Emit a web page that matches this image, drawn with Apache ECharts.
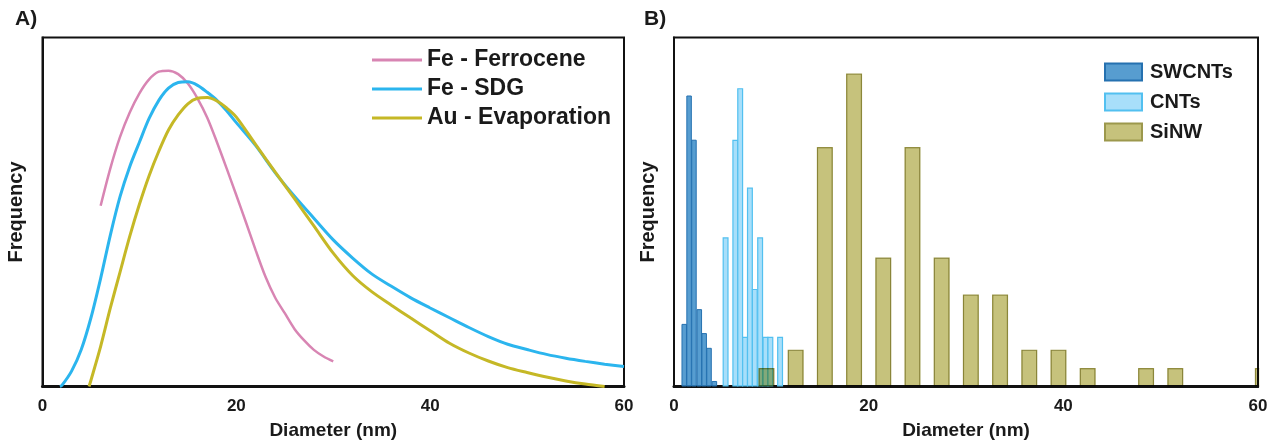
<!DOCTYPE html>
<html>
<head>
<meta charset="utf-8">
<script src="https://cdn.jsdelivr.net/npm/echarts@6/dist/echarts.min.js"></script>
<style>
html,body{margin:0;padding:0;background:#fff;}
#chart{width:1271px;height:441px;}
</style>
</head>
<body>
<div id="chart"></div>
<script>
// ---- Panel A: size distribution curves (x = diameter nm, y = relative frequency) ----
const ferrocene = [[6,51.8],[7,62.5],[8,71.5],[9,78.5],[10,84],[11,88],[12,90.2],[13,90.5],[14,89.5],[15,86.8],[16,82.5],[17,77],[18,70],[19,62.5],[20,54.8],[21,47],[22,39],[23,31.5],[24,25.5],[25,21],[26,16.5],[27,13.2],[28,10.5],[29,8.6],[30,7.2]];
const sdg = [[1.8,0],[2,0.3],[3,4.4],[4,10.6],[5,19.7],[6,31],[7,43.4],[8,54.4],[9,63],[10,70],[11,76.8],[12,82],[13,85.5],[14,87.1],[15,87.3],[16,86.3],[17,84.3],[18,82],[19,79],[20,75.6],[22,69],[24,61.3],[26,54.5],[28,48.2],[30,42],[32,36.8],[34,32.2],[36,28.7],[38,25.4],[40,22.5],[42,19.7],[44,16.9],[46,14.3],[48,12.1],[50,10.6],[52,9.2],[54,8.1],[56,7.2],[58,6.4],[60,5.7]];
const evaporation = [[4.8,0],[5,1.8],[6,11.5],[7,22.5],[8,32.8],[9,43],[10,52.2],[11,60.4],[12,67.4],[13,73.5],[14,77.8],[15,81],[16,82.6],[17,82.8],[18,81.8],[19,79.8],[20,77.2],[22,69.3],[24,61.5],[26,53.8],[28,46],[30,38.2],[32,31.8],[34,27.1],[36,23.3],[38,19.6],[40,16],[42,12.4],[44,9.6],[46,7.3],[48,5.4],[50,4],[52,2.7],[54,1.6],[56,0.7],[58,0]];

// ---- Panel B: histograms ----
const swcntX = [1.05,1.55,2.05,2.6,3.1,3.6,4.15];
const swcntY = [3.4,15.8,13.4,4.2,2.9,2.1,0.3];
const cntX = [5.3,6.3,6.8,7.3,7.8,8.3,8.85,9.4,9.9,10.9];
const cntY = [8.1,13.4,16.2,2.7,10.8,5.3,8.1,2.7,2.7,2.7];
const sinwX = [9.5,12.5,15.5,18.5,21.5,24.5,27.5,30.5,33.5,36.5,39.5,42.5,48.5,51.5,60.5];
const sinwY = [1,2,13,17,7,13,7,5,5,2,2,1,1,1,1];

const xTicks = [0,20,40,60];

const pair = (xs, ys) => xs.map((x, i) => [x, ys[i]]);
const FONT = '"Liberation Sans", Arial, sans-serif';
const txt = '#1a1a1a';

function xAx(gridIndex, show) {
  return {
    type: 'value', gridIndex, min: xTicks[0], max: xTicks[xTicks.length-1], interval: xTicks[1]-xTicks[0],
    show,
    name: 'Diameter (nm)', nameLocation: 'middle', nameGap: 35,
    nameTextStyle: {fontFamily: FONT, fontWeight: 'bold', fontSize: 19, color: txt},
    axisLine: {show: true, onZero: false, lineStyle: {color: '#111', width: 3}},
    axisTick: {show: false},
    splitLine: {show: false},
    axisLabel: {fontFamily: FONT, fontWeight: 'bold', fontSize: 17, color: txt, margin: 11}
  };
}
function yAx(gridIndex, max) {
  return {
    type: 'value', gridIndex, min: 0, max,
    name: 'Frequency', nameLocation: 'middle', nameGap: 16, nameRotate: 90,
    nameTextStyle: {fontFamily: FONT, fontWeight: 'bold', fontSize: 20, color: txt},
    axisLine: {show: true, lineStyle: {color: '#111', width: 2}},
    axisTick: {show: false}, axisLabel: {show: false}, splitLine: {show: false}
  };
}

const chart = echarts.init(document.getElementById('chart'), null, {renderer: 'canvas'});
chart.setOption({
  backgroundColor: '#fff',
  animation: false,
  title: [
    {text: 'A)', left: 10, top: 4, textStyle: {fontFamily: FONT, fontWeight: 'bold', fontSize: 21, color: txt}},
    {text: 'B)', left: 639, top: 4, textStyle: {fontFamily: FONT, fontWeight: 'bold', fontSize: 21, color: txt}}
  ],
  grid: [
    {left: 42.5, right: 647, top: 37.5, bottom: 54.5, show: true, borderColor: '#111', borderWidth: 2, outerBoundsMode: 'none'},
    {left: 674, right: 13, top: 37.5, bottom: 54.5, show: true, borderColor: '#111', borderWidth: 2, outerBoundsMode: 'none'}
  ],
  legend: [
    {
      orient: 'vertical', left: 367, top: 43.5, itemGap: 6, itemWidth: 50, itemHeight: 3, icon: 'rect',
      textStyle: {fontFamily: FONT, fontWeight: 'bold', fontSize: 23, color: txt},
      data: ['Fe - Ferrocene', 'Fe - SDG', 'Au - Evaporation']
    },
    {
      orient: 'vertical', left: 1099, top: 57, itemGap: 10, itemWidth: 37, itemHeight: 17, icon: 'rect',
      textStyle: {fontFamily: FONT, fontWeight: 'bold', fontSize: 20, color: txt, padding: [0, 0, 0, 3]},
      data: ['SWCNTs', 'CNTs', 'SiNW']
    }
  ],
  xAxis: [xAx(0, true), xAx(1, true), xAx(1, false), xAx(1, false)],
  yAxis: [yAx(0, 100), yAx(1, 18.95)],
  series: [
    {name: 'Fe - Ferrocene', type: 'line', xAxisIndex: 0, yAxisIndex: 0, data: ferrocene, smooth: 0.3, showSymbol: false,
     lineStyle: {color: '#d885b3', width: 2.5}, itemStyle: {color: '#d885b3'}},
    {name: 'Fe - SDG', type: 'line', xAxisIndex: 0, yAxisIndex: 0, data: sdg, smooth: 0.3, showSymbol: false,
     lineStyle: {color: '#2bb5ee', width: 3}, itemStyle: {color: '#2bb5ee'}},
    {name: 'Au - Evaporation', type: 'line', xAxisIndex: 0, yAxisIndex: 0, data: evaporation, smooth: 0.3, showSymbol: false,
     lineStyle: {color: '#c5b826', width: 3}, itemStyle: {color: '#c5b826'}},
    {name: 'SWCNTs', type: 'bar', xAxisIndex: 1, yAxisIndex: 1, data: pair(swcntX, swcntY), barWidth: 5.5,
     itemStyle: {color: 'rgba(58,140,200,0.85)', borderColor: '#2571b0', borderWidth: 1}},
    {name: 'CNTs', type: 'bar', xAxisIndex: 2, yAxisIndex: 1, data: pair(cntX, cntY), barWidth: 6,
     itemStyle: {color: '#a8dffa', borderColor: '#52c0f0', borderWidth: 1.2}},
    {name: 'SiNW', type: 'bar', xAxisIndex: 3, yAxisIndex: 1, data: pair(sinwX, sinwY), barWidth: 16,
     blendMode: 'multiply',
     itemStyle: {color: '#c6c27c', borderColor: '#9c984c', borderWidth: 1.2}}
  ]
});

// Mask anything the histogram draws beyond the right edge of panel B's plot area
const rightEdge = chart.convertToPixel({xAxisIndex: 1}, xTicks[xTicks.length-1]);
const plotTop = chart.convertToPixel({yAxisIndex: 1}, 18.95);
const plotBottom = chart.convertToPixel({yAxisIndex: 1}, 0);
chart.setOption({
  graphic: [{
    type: 'rect', z: 100, silent: true,
    shape: {x: rightEdge + 1.2, y: plotTop - 4, width: 1271 - rightEdge, height: plotBottom - plotTop + 7},
    style: {fill: '#fff'}
  }]
});
</script>
</body>
</html>
